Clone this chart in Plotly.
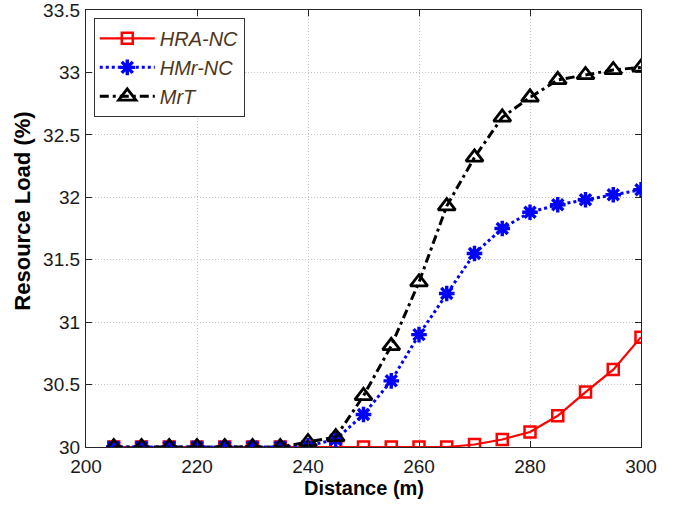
import plotly.graph_objects as go

distance = [205, 210, 215, 220, 225, 230, 235, 240, 245, 250, 255, 260, 265, 270, 275, 280, 285, 290, 295, 300]
hra_nc = [30.0, 30.0, 30.0, 30.0, 30.0, 30.0, 30.0, 30.0, 30.0, 30.0, 30.0, 30.0, 30.0, 30.02, 30.06, 30.12, 30.25, 30.44, 30.62, 30.88]
hmr_nc = [30.0, 30.0, 30.0, 30.0, 30.0, 30.0, 30.0, 30.01, 30.06, 30.26, 30.53, 30.90, 31.23, 31.55, 31.75, 31.88, 31.94, 31.98, 32.02, 32.06]
mrt = [30.0, 30.0, 30.0, 30.0, 30.0, 30.0, 30.0, 30.04, 30.08, 30.41, 30.81, 31.32, 31.93, 32.32, 32.64, 32.80, 32.94, 32.98, 33.02, 33.04]

x_ticks = [200, 220, 240, 260, 280, 300]
y_ticks = [30, 30.5, 31, 31.5, 32, 32.5, 33, 33.5]
y_tick_text = ["30", "30.5", "31", "31.5", "32", "32.5", "33", "33.5"]

FONT = "Liberation Sans, Arial, sans-serif"

fig = go.Figure()
fig.add_trace(go.Scatter(
    x=distance, y=hra_nc, name="HRA-NC", mode="lines+markers",
    line=dict(color="#ff0000", width=2.2, dash="solid"),
    marker=dict(symbol="square-open", size=11, color="#ff0000", line=dict(width=2.5, color="#ff0000")),
))
fig.add_trace(go.Scatter(
    x=distance, y=hmr_nc, name="HMr-NC", mode="lines+markers",
    line=dict(color="#0000ff", width=3, dash="3px,3px"),
    marker=dict(symbol="asterisk-open", size=13, color="#0000ff", line=dict(width=3.4, color="#0000ff")),
))
fig.add_trace(go.Scatter(
    x=distance, y=mrt, name="MrT", mode="lines+markers",
    line=dict(color="#000000", width=3, dash="9px,4px,3px,4px"),
    marker=dict(symbol="triangle-up-open", size=15, color="#000000", line=dict(width=2.8, color="#000000")),
))

axis_common = dict(
    showline=True, linecolor="#262626", linewidth=1.2, mirror="ticks",
    ticks="inside", ticklen=6, tickcolor="#262626", tickwidth=1,
    showgrid=True, gridcolor="#c4c4c4", griddash="1px,2px", gridwidth=1,
    zeroline=False, automargin=False, ticklabeloverflow="allow",
    tickfont=dict(family=FONT, size=19, color="#1a1a1a"),
)

fig.update_xaxes(range=[200, 300], tickvals=x_ticks, ticklabelstandoff=2, **axis_common)
fig.update_yaxes(range=[30, 33.5], tickvals=y_ticks, ticktext=y_tick_text, ticklabelstandoff=1, **axis_common)

fig.update_layout(
    width=686, height=506,
    margin=dict(l=86, r=45, t=10, b=59, autoexpand=False),
    paper_bgcolor="white", plot_bgcolor="white",
    showlegend=True,
    legend=dict(
        x=0.014, y=0.982, xanchor="left", yanchor="top",
        bgcolor="white", bordercolor="#333333", borderwidth=1,
        font=dict(family=FONT, size=20, color="#4d3620", style="italic"),
        itemwidth=55, tracegroupgap=0,
    ),
    annotations=[
        dict(text="<b>Distance (m)</b>", xref="paper", yref="paper", x=0.5, y=-0.094,
             xanchor="center", yanchor="middle", showarrow=False,
             font=dict(family=FONT, size=20, color="#000000")),
        dict(text="<b>Resource Load (%)</b>", xref="paper", yref="paper", x=-0.116, y=0.54,
             xanchor="center", yanchor="middle", showarrow=False, textangle=-90,
             font=dict(family=FONT, size=22, color="#000000")),
    ],
)

fig.write_html("out.html", config={"displayModeBar": False},
               post_script="document.body.style.margin='0px';")
